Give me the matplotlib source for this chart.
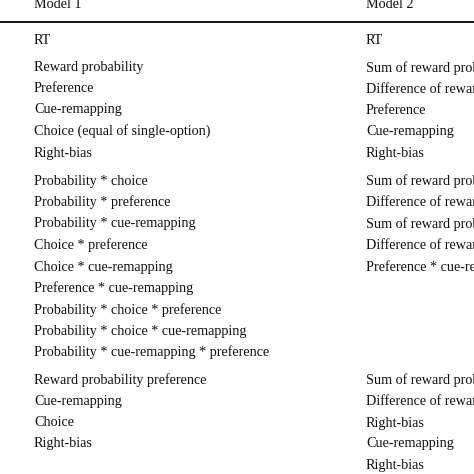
import matplotlib
matplotlib.use("Agg")
import matplotlib.pyplot as plt

headers = ["Model 1", "Model 2"]
model1 = ["RT", "Reward probability", "Preference", "Cue-remapping",
          "Choice (equal of single-option)", "Right-bias",
          "Probability * choice", "Probability * preference", "Probability * cue-remapping",
          "Choice * preference", "Choice * cue-remapping", "Preference * cue-remapping",
          "Probability * choice * preference", "Probability * choice * cue-remapping",
          "Probability * cue-remapping * preference",
          "Reward probability preference", "Cue-remapping", "Choice", "Right-bias"]
model1_y = [41, 68, 89, 110, 131, 153, 181, 202, 224, 245, 267, 288, 310, 331, 352, 380, 401, 423, 444]
model2 = ["RT", "Sum of reward probability", "Difference of reward probability", "Preference",
          "Cue-remapping", "Right-bias",
          "Sum of reward probability * choice", "Difference of reward probability * choice",
          "Sum of reward probability * preference", "Difference of reward probability * preference",
          "Preference * cue-remapping",
          "Sum of reward probability", "Difference of reward probability", "Right-bias",
          "Cue-remapping", "Right-bias"]
model2_y = [41, 68, 89, 110, 131, 153, 181, 202, 224, 245, 267, 380, 401, 423, 444, 465]

fig = plt.figure(figsize=(4.74, 4.74), dpi=100)
fig.patch.set_facecolor("white")
fs = 10.2
fam = "Liberation Serif"
H = 474.0
def put(x, y, s):
    fig.text(x / H, 1 - y / H, s, fontsize=fs, family=fam, va="center", ha="left", color="#111111")

put(34, 4, headers[0])
put(366, 4, headers[1])
for s, y in zip(model1, model1_y):
    put(34, y, s)
for s, y in zip(model2, model2_y):
    put(366, y, s)
fig.add_artist(plt.Line2D([0, 1], [1 - 22 / H, 1 - 22 / H], color="black", lw=1.3))
fig.savefig("out.png", dpi=100)
